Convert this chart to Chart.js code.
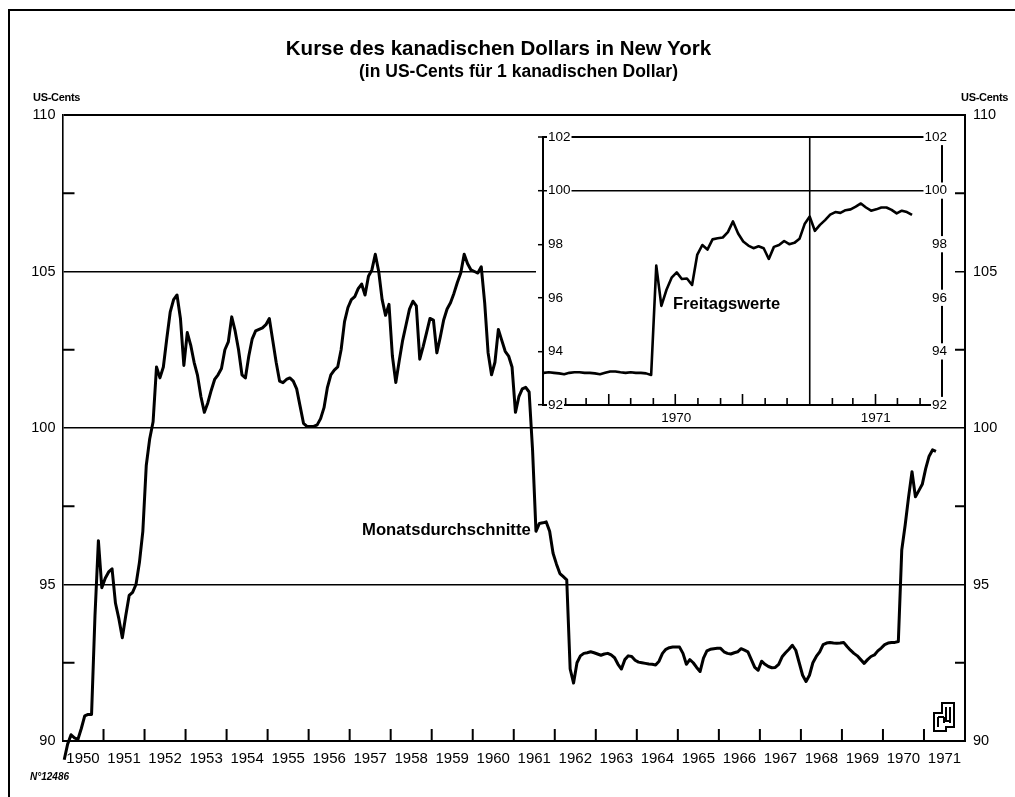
<!DOCTYPE html>
<html>
<head>
<meta charset="utf-8">
<script src="https://cdn.jsdelivr.net/npm/chart.js@4.4.1/dist/chart.umd.min.js"></script>
<style>
  body { margin: 0; background: #fff; width: 1015px; height: 797px; overflow: hidden; position: relative;
         font-family: 'Liberation Sans', Arial, sans-serif; color: #000; }
  canvas { position: absolute; }
  #main { left: 0; top: 0; }
  #inset { left: 536px; top: 118px; background: #fff; }
  .t { position: absolute; white-space: nowrap; }
  #frame { position: absolute; left: 8px; top: 9px; width: 1020px; height: 800px;
           border-left: 2px solid #000; border-top: 2px solid #000; }
</style>
</head>
<body>
<div id="frame"></div>
<canvas id="main" width="1015" height="797"></canvas>
<canvas id="inset" width="419" height="308"></canvas>

<div class="t" style="left:0;width:997px;text-align:center;top:36px;font-size:20.5px;font-weight:bold;">Kurse des kanadischen Dollars in New York</div>
<div class="t" style="left:20px;width:997px;text-align:center;top:61px;font-size:17.5px;font-weight:bold;">(in US-Cents für 1 kanadischen Dollar)</div>
<div class="t" style="left:33px;top:91px;font-size:11px;font-weight:bold;letter-spacing:-0.3px;">US-Cents</div>
<div class="t" style="left:961px;top:91px;font-size:11px;font-weight:bold;letter-spacing:-0.3px;">US-Cents</div>
<div class="t" style="left:362px;top:520px;font-size:16.7px;font-weight:bold;">Monatsdurchschnitte</div>
<div class="t" style="left:673px;top:294px;font-size:16.5px;font-weight:bold;">Freitagswerte</div>
<div class="t" style="left:30px;top:771px;font-size:10px;font-style:italic;font-weight:bold;">N°12486</div>
<svg class="t" style="left:932px;top:701px;" width="26" height="32" viewBox="0 0 26 32">
  <path d="M2 12 H10 V2 H22 V26 H14 V30 H2 Z" fill="none" stroke="#000" stroke-width="2"/>
  <path d="M6 16 V26 M6 16 H12 M12 16 V22 M14 6 V20 H18 M18 6 V22" fill="none" stroke="#000" stroke-width="2"/>
</svg>

<script>
// Monatsdurchschnitte, Jan 1950 bis Apr 1971 (US-Cents)
const years = [1950, 1951, 1952, 1953, 1954, 1955, 1956, 1957, 1958, 1959, 1960,
               1961, 1962, 1963, 1964, 1965, 1966, 1967, 1968, 1969, 1970, 1971];

const monthly = [
  89.4, 89.9, 90.2, 90.1, 90.05, 90.4, 90.8, 90.85, 90.85, 94.0, 96.4, 94.9,          // 1950
  95.2, 95.4, 95.5, 94.4, 93.9, 93.3, 94.0, 94.65, 94.75, 95.0, 95.7, 96.7,           // 1951
  98.8, 99.65, 100.2, 101.95, 101.6, 101.95, 102.85, 103.7, 104.1, 104.25, 103.5, 102.0, // 1952
  103.05, 102.65, 102.1, 101.68, 101.0, 100.5, 100.8, 101.2, 101.55, 101.7, 101.9, 102.5, // 1953
  102.75, 103.55, 103.1, 102.5, 101.7, 101.6, 102.3, 102.85, 103.1, 103.15, 103.2, 103.3, // 1954
  103.5, 102.8, 102.1, 101.5, 101.45, 101.55, 101.6, 101.5, 101.25, 100.7, 100.15, 100.05, // 1955
  100.05, 100.05, 100.1, 100.3, 100.65, 101.3, 101.7, 101.85, 101.95, 102.5, 103.4, 103.85, // 1956
  104.1, 104.2, 104.45, 104.6, 104.25, 104.85, 105.05, 105.55, 105.0, 104.1, 103.6, 103.95, // 1957
  102.3, 101.45, 102.15, 102.8, 103.3, 103.8, 104.05, 103.9, 102.2, 102.6, 103.05, 103.5,   // 1958
  103.45, 102.4, 102.9, 103.45, 103.8, 104.0, 104.3, 104.65, 104.95, 105.55, 105.25, 105.05, // 1959
  105.0, 104.95, 105.15, 104.0, 102.4, 101.7, 102.1, 103.15, 102.8, 102.45, 102.3, 101.95,  // 1960
  100.5, 101.0, 101.25, 101.3, 101.15, 99.3, 96.7, 96.95, 96.97, 97.0, 96.7, 96.0,          // 1961
  95.65, 95.35, 95.25, 95.15, 92.3, 91.85, 92.5, 92.72, 92.8, 92.82, 92.85, 92.82,          // 1962
  92.78, 92.74, 92.78, 92.8, 92.75, 92.66, 92.45, 92.3, 92.6, 92.72, 92.7, 92.58,           // 1963
  92.52, 92.5, 92.48, 92.46, 92.45, 92.43, 92.55, 92.8, 92.93, 92.98, 93.0, 93.0,           // 1964
  93.0, 92.8, 92.45, 92.6, 92.5, 92.35, 92.22, 92.65, 92.88, 92.93, 92.95, 92.96,           // 1965
  92.96, 92.85, 92.8, 92.78, 92.82, 92.85, 92.95, 92.9, 92.85, 92.6, 92.35, 92.26,          // 1966
  92.55, 92.45, 92.38, 92.34, 92.35, 92.45, 92.69, 92.82, 92.93, 93.06, 92.9, 92.5,         // 1967
  92.1, 91.9, 92.1, 92.5, 92.7, 92.85, 93.08, 93.13, 93.15, 93.13, 93.12, 93.13,            // 1968
  93.15, 93.02, 92.9, 92.8, 92.72, 92.6, 92.48, 92.6, 92.7, 92.75, 92.88, 92.97,            // 1969
  93.08, 93.13, 93.15, 93.15, 93.18, 96.1, 96.9, 97.8, 98.6, 97.8, 98.0, 98.2,              // 1970
  98.7, 99.1, 99.3, 99.25                                                                   // 1971
];

const mainMinorTicks = [92.5, 97.5, 102.5, 107.5];

// Freitagswerte, ab Freitag 2. Jan 1970 (Tag 1) im Wochenabstand
const weekly = [
  93.2, 93.22, 93.2, 93.18, 93.15, 93.2, 93.22, 93.22, 93.2, 93.2, 93.18, 93.15,
  93.2, 93.25, 93.25, 93.22, 93.2, 93.22, 93.2, 93.2, 93.18, 93.12,
  97.2, 95.7, 96.3, 96.75, 96.95, 96.7, 96.72, 96.48, 97.6, 97.97, 97.8, 98.18,
  98.22, 98.25, 98.45, 98.85, 98.4, 98.1, 97.95, 97.85, 97.92, 97.85, 97.45, 97.9,
  97.97, 98.12, 98.0, 98.05, 98.2, 98.75, 99.03, 98.5, 98.72, 98.9, 99.1, 99.2,
  99.17, 99.27, 99.3, 99.4, 99.52, 99.37, 99.25, 99.3, 99.37, 99.37, 99.28, 99.15,
  99.25, 99.2, 99.09
];

const insetYears = ['1970', '1971'];
const insetYearMid = [182.5, 455.5];        // Tage ab 1.1.1970
const insetMonthStarts = [31, 59, 90, 120, 151, 181, 212, 243, 273, 304, 334, 396, 424, 455, 485, 516];
const insetQuarterStarts = [90, 181, 273, 455];
const insetYearLine = 365;

const AXIS_FONT = "'Liberation Sans', Arial, sans-serif";

// kurze Striche nach innen (Jahresgrenzen, Zwischenwerte)
const mainTicks = {
  id: 'mainTicks',
  afterDraw(chart) {
    const { ctx, chartArea: a, scales: { x, y } } = chart;
    ctx.save();
    ctx.strokeStyle = '#000';
    ctx.lineWidth = 2;
    ctx.beginPath();
    for (let i = 1; i < years.length; i++) {
      const px = x.getPixelForValue(i * 12);
      ctx.moveTo(px, a.bottom);
      ctx.lineTo(px, a.bottom - 12);
    }
    mainMinorTicks.forEach(v => {
      const py = y.getPixelForValue(v);
      ctx.moveTo(a.left, py);
      ctx.lineTo(a.left + 12, py);
      ctx.moveTo(a.right, py);
      ctx.lineTo(a.right - 10, py);
    });
    ctx.stroke();
    ctx.restore();
  }
};

const insetTicks = {
  id: 'insetTicks',
  afterDraw(chart) {
    const { ctx, chartArea: a, scales: { x } } = chart;
    ctx.save();
    ctx.strokeStyle = '#000';
    ctx.lineWidth = 1.6;
    ctx.beginPath();
    insetMonthStarts.forEach(d => {
      const px = x.getPixelForValue(d);
      const len = insetQuarterStarts.includes(d) ? 11 : 7;
      ctx.moveTo(px, a.bottom);
      ctx.lineTo(px, a.bottom - len);
    });
    const yl = x.getPixelForValue(insetYearLine);
    ctx.moveTo(yl, a.bottom);
    ctx.lineTo(yl, a.top);
    ctx.stroke();
    ctx.restore();
  }
};

new Chart(document.getElementById('main'), {
  type: 'line',
  data: {
    datasets: [{
      data: monthly.map((v, i) => ({ x: i + 0.5, y: v })),
      borderColor: '#000',
      borderWidth: 3,
      pointRadius: 0,
      tension: 0,
      clip: false,
      borderJoinStyle: 'round'
    }]
  },
  options: {
    responsive: false,
    animation: false,
    layout: { padding: { left: 20, right: 10, top: 115, bottom: 20 } },
    plugins: { legend: { display: false }, tooltip: { enabled: false } },
    scales: {
      x: {
        type: 'linear', min: 0, max: years.length * 12,
        afterBuildTicks: s => { s.ticks = years.map((yr, i) => ({ value: i * 12 + 6 })); },
        ticks: {
          callback: v => String(years[Math.floor(v / 12)]),
          font: { family: AXIS_FONT, size: 15 }, color: '#000',
          padding: 9, maxRotation: 0, autoSkip: false
        },
        grid: { display: false, drawTicks: false },
        border: { display: true, color: '#000', width: 2 },
        afterFit: s => { s.height = 36; }
      },
      y: {
        min: 90, max: 110, position: 'left',
        ticks: { stepSize: 5, font: { family: AXIS_FONT, size: 14.5 }, color: '#000', padding: 7 },
        grid: {
          color: '#000', drawTicks: false,
          lineWidth: c => c.tick.value === 110 ? 2 : (c.tick.value === 90 ? 0 : 1.4)
        },
        border: { display: true, color: '#000', width: 1.6 },
        afterFit: s => { s.width = 42.5; }
      },
      y2: {
        min: 90, max: 110, position: 'right',
        ticks: { stepSize: 5, font: { family: AXIS_FONT, size: 14.5 }, color: '#000', padding: 8 },
        grid: { display: false, drawTicks: false },
        border: { display: true, color: '#000', width: 2 },
        afterFit: s => { s.width = 40; }
      }
    }
  },
  plugins: [mainTicks]
});

const insetFont = { family: AXIS_FONT, size: 13.5 };

new Chart(document.getElementById('inset'), {
  type: 'line',
  data: {
    datasets: [{
      data: weekly.map((v, i) => ({ x: 1 + 7 * i, y: v })),
      borderColor: '#000',
      borderWidth: 2.6,
      pointRadius: 0,
      tension: 0,
      borderJoinStyle: 'round'
    }]
  },
  options: {
    responsive: false,
    animation: false,
    layout: { padding: { left: 0, right: 0, top: 19, bottom: 0 } },
    plugins: { legend: { display: false }, tooltip: { enabled: false } },
    scales: {
      x: {
        type: 'linear', min: 0, max: 546,
        afterBuildTicks: s => { s.ticks = insetYearMid.map(v => ({ value: v })); },
        ticks: {
          callback: (v, i) => insetYears[i],
          font: insetFont, color: '#000', padding: 5, maxRotation: 0, autoSkip: false
        },
        grid: { display: false, drawTicks: false },
        border: { display: true, color: '#000', width: 2 },
        afterFit: s => { s.height = 21; }
      },
      y: {
        min: 92, max: 102, position: 'left',
        ticks: {
          stepSize: 2, mirror: true, padding: 5, font: insetFont, color: '#000',
          showLabelBackdrop: true, backdropColor: '#fff',
          backdropPadding: { left: 1, right: 1, top: 0, bottom: 0 }
        },
        grid: {
          color: c => (c.tick.value === 100 || c.tick.value === 102) ? '#000' : 'rgba(0,0,0,0)',
          lineWidth: c => c.tick.value === 102 ? 2 : 1.4,
          tickLength: 5, tickColor: '#000', tickWidth: 1.5
        },
        border: { display: true, color: '#000', width: 2 },
        afterFit: s => { s.width = 7; }
      },
      y2: {
        min: 92, max: 102, position: 'right',
        ticks: {
          stepSize: 2, mirror: true, padding: 5, font: insetFont, color: '#000',
          showLabelBackdrop: true, backdropColor: '#fff',
          backdropPadding: { left: 1, right: 1, top: 0, bottom: 0 }
        },
        grid: { drawOnChartArea: false, tickLength: 5, color: '#000', tickWidth: 1.5 },
        border: { display: true, color: '#000', width: 2 },
        afterFit: s => { s.width = 13; }
      }
    }
  },
  plugins: [insetTicks]
});
</script>
</body>
</html>
